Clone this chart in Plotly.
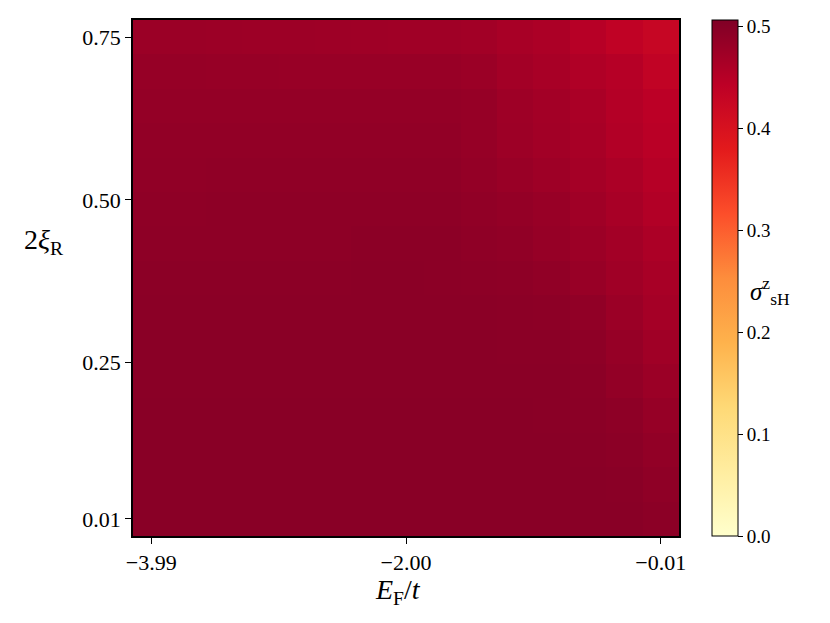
import numpy as np
import plotly.graph_objects as go

# Fermi energy (columns) and Rashba strength (rows)
e_fermi = np.linspace(-3.99, -0.01, 15)
xi_r = np.linspace(0.01, 0.75, 15)

# spin Hall conductivity, rows from 2xi_R = 0.01 (bottom) to 0.75 (top)
sigma_rows = [
    [0.497, 0.497, 0.497, 0.497, 0.497, 0.497, 0.497, 0.497, 0.497, 0.497, 0.497, 0.497, 0.497, 0.497, 0.494],
    [0.497, 0.497, 0.497, 0.497, 0.497, 0.497, 0.497, 0.497, 0.497, 0.497, 0.497, 0.497, 0.497, 0.496, 0.490],
    [0.497, 0.497, 0.497, 0.497, 0.497, 0.497, 0.497, 0.497, 0.497, 0.497, 0.497, 0.497, 0.496, 0.494, 0.487],
    [0.497, 0.497, 0.497, 0.497, 0.497, 0.497, 0.497, 0.497, 0.497, 0.497, 0.497, 0.496, 0.495, 0.491, 0.483],
    [0.496, 0.496, 0.496, 0.496, 0.496, 0.496, 0.496, 0.496, 0.496, 0.496, 0.496, 0.496, 0.494, 0.486, 0.478],
    [0.496, 0.496, 0.496, 0.496, 0.496, 0.496, 0.496, 0.496, 0.496, 0.496, 0.495, 0.495, 0.491, 0.483, 0.473],
    [0.495, 0.495, 0.495, 0.495, 0.495, 0.495, 0.495, 0.495, 0.495, 0.495, 0.494, 0.493, 0.488, 0.478, 0.468],
    [0.494, 0.494, 0.494, 0.494, 0.494, 0.494, 0.495, 0.495, 0.494, 0.493, 0.491, 0.488, 0.481, 0.473, 0.465],
    [0.491, 0.491, 0.492, 0.492, 0.492, 0.492, 0.494, 0.494, 0.494, 0.490, 0.488, 0.483, 0.477, 0.470, 0.460],
    [0.490, 0.490, 0.491, 0.491, 0.491, 0.491, 0.492, 0.492, 0.492, 0.488, 0.485, 0.481, 0.473, 0.465, 0.454],
    [0.488, 0.488, 0.489, 0.489, 0.489, 0.489, 0.489, 0.489, 0.489, 0.485, 0.480, 0.475, 0.468, 0.460, 0.450],
    [0.487, 0.487, 0.487, 0.487, 0.487, 0.487, 0.487, 0.487, 0.487, 0.483, 0.476, 0.471, 0.465, 0.454, 0.446],
    [0.485, 0.485, 0.485, 0.485, 0.485, 0.485, 0.485, 0.485, 0.485, 0.483, 0.475, 0.470, 0.462, 0.452, 0.444],
    [0.483, 0.483, 0.482, 0.482, 0.481, 0.481, 0.481, 0.481, 0.481, 0.478, 0.470, 0.465, 0.456, 0.450, 0.436],
    [0.478, 0.478, 0.477, 0.476, 0.476, 0.475, 0.474, 0.473, 0.473, 0.471, 0.465, 0.460, 0.449, 0.438, 0.428],
]

x_tickvals = [-3.99, -2.00, -0.01]
x_ticktext = ["\u22123.99", "\u22122.00", "\u22120.01"]
y_tickvals = [0.01, 0.25, 0.50, 0.75]
y_ticktext = ["0.01", "0.25", "0.50", "0.75"]
cbar_ticks = [0.0, 0.1, 0.2, 0.3, 0.4, 0.5]

# matplotlib YlOrRd
ylorrd = ["#ffffcc", "#ffeda0", "#fed976", "#feb24c", "#fd8d3c",
          "#fc4e2a", "#e31a1c", "#bd0026", "#800026"]
cscale = [[i / 8, c] for i, c in enumerate(ylorrd)]

FONT = "Liberation Serif"

fig = go.Figure()
fig.add_trace(go.Heatmap(
    x=e_fermi, y=xi_r, z=sigma_rows,
    colorscale=cscale, zmin=0.0, zmax=0.506,
    colorbar=dict(
        x=1.0604, xanchor="left", xpad=0,
        y=0.5, yanchor="middle", ypad=0,
        len=1.0, lenmode="fraction", thickness=26,
        outlinecolor="black", outlinewidth=1,
        ticks="outside", ticklen=5, tickcolor="black",
        tickvals=cbar_ticks, tickformat=".1f",
        tickfont=dict(family=FONT, size=19, color="black"),
    ),
    hovertemplate="E_F/t=%{x:.2f}<br>2ξ_R=%{y:.2f}<br>σ=%{z:.3f}<extra></extra>",
))

axis_common = dict(
    showline=True, linecolor="black", linewidth=1.5, mirror=True,
    ticks="outside", ticklen=6, tickwidth=1.2, tickcolor="black",
    showgrid=False, zeroline=False,
    tickfont=dict(family=FONT, size=22, color="black"),
)

# the page body adds 8px, so the figure is drawn 8px smaller
fig.update_layout(
    width=822, height=615,
    margin=dict(l=125, r=151, t=10, b=87),
    paper_bgcolor="white", plot_bgcolor="white",
    xaxis=dict(tickvals=x_tickvals, ticktext=x_ticktext, **axis_common),
    yaxis=dict(tickvals=y_tickvals, ticktext=y_ticktext, **axis_common),
)

# axis labels, horizontal as in the original
fig.add_annotation(
    text="<i>E</i><sub>F</sub>/<i>t</i>", xref="paper", yref="paper",
    x=0.485, y=-0.108, xanchor="center", yanchor="middle", showarrow=False,
    font=dict(family=FONT, size=28, color="black"),
)
fig.add_annotation(
    text="2<i>ξ</i><sub>R</sub>", xref="paper", yref="paper",
    x=-0.163, y=0.57, xanchor="center", yanchor="middle", showarrow=False,
    font=dict(family=FONT, size=28, color="black"),
)
fig.add_annotation(
    text="<i>σ</i><sup>z</sup><sub>sH</sub>", xref="paper", yref="paper",
    x=1.167, y=0.475, xanchor="center", yanchor="middle", showarrow=False,
    font=dict(family=FONT, size=25, color="black"),
)

fig.write_html("out.html")
